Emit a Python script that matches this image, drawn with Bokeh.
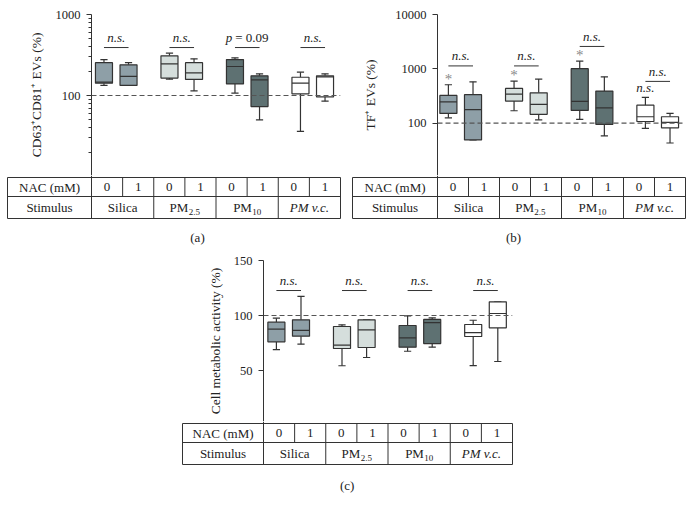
from bokeh.plotting import figure
from bokeh.layouts import row, column
from bokeh.models import Range1d, Span, FixedTicker, NumeralTickFormatter, Spacer
from bokeh.core.properties import value
from bokeh.embed import file_html
from bokeh.resources import INLINE

FONT = "Liberation Serif"

# ---------------- data ----------------
stimuli = ["Silica", "PM", "PM", "PM v.c."]
stimuli_sub = ["", "2.5", "10", ""]
stimuli_italic = [False, False, False, True]
nac_levels = ["0", "1"]
group_colors = ["#8e9fa7", "#d5dedc", "#5e7172", "#ffffff"]

# (a) CD63+CD81+ EVs (%)
a_lo = [133, 133, 159, 114, 107, 50, 36, 85]
a_q1 = [142, 133, 164, 158, 139, 73, 105, 96]
a_med = [146, 172, 246, 190, 228, 156, 142, 170]
a_q3 = [254, 239, 309, 254, 278, 175, 168, 175]
a_hi = [278, 254, 333, 284, 292, 185, 194, 185]
a_notes = ["n.s.", "n.s.", "p = 0.09", "n.s."]
a_note_y = [391, 391, 391, 391]
a_major = [100, 1000]
a_minor = [20, 30, 40, 50, 60, 70, 80, 90, 200, 300, 400, 500, 600, 700, 800, 900]

# (b) TF+ EVs (%)
b_lo = [125, 49, 169, 115, 117, 58, 80, 43]
b_q1 = [151, 49, 254, 145, 171, 95, 107, 82]
b_med = [247, 177, 342, 221, 251, 191, 131, 103]
b_q3 = [324, 334, 435, 361, 1005, 389, 214, 131]
b_hi = [509, 575, 593, 646, 1387, 712, 297, 151]
b_notes = ["n.s.", "n.s.", "n.s.", "n.s."]
b_note_y = [1130, 1130, 2580, 586]
b_star = [True, False, True, False, True, False, False, False]
b_extra_note_y = 449  # extra n.s. above PM v.c. NAC 0
b_major = [100, 1000, 10000]

# (c) Cell metabolic activity (%)
c_lo = [69, 73.9, 54.3, 61.8, 67.5, 71.2, 54.5, 58.2]
c_q1 = [76.1, 81.2, 70, 70.9, 71.2, 74.5, 80.9, 88.8]
c_med = [87.6, 86.4, 73, 87, 79.7, 93.6, 84.5, 101.8]
c_q3 = [93.9, 96.1, 90, 96.1, 90.9, 96.4, 91.8, 112.4]
c_hi = [97.6, 117.3, 91.5, 96.1, 99.7, 97.9, 95.7, 112.4]
c_notes = ["n.s.", "n.s.", "n.s.", "n.s."]
c_note_y = [122.7, 122.7, 122.7, 122.7]
c_major = [50, 100, 150]

OFF = 0.375   # box offset inside group (group units)
BW = 0.26     # box width
CAP = 0.11    # whisker cap width
LINE = "#333333"
TXT = "#222222"


def no_align(p):
    if "frame_align" in p.properties():
        p.frame_align = False


def positions():
    xs, cols = [], []
    for g in range(len(stimuli)):
        for n in range(len(nac_levels)):
            xs.append(g + (n - 0.5) * OFF)
            cols.append(group_colors[g])
    return xs, cols


def box_fig(width, height, mbl, mbr, mbt, x_range, y_range, y_type, label, standoff):
    p = figure(width=width, height=height, x_range=x_range, y_range=y_range,
               y_axis_type=y_type, output_backend="svg", toolbar_location=None,
               min_border_left=mbl, min_border_right=mbr, min_border_top=mbt,
               min_border_bottom=0)
    no_align(p)
    p.xaxis.visible = False
    p.xgrid.grid_line_color = None
    p.ygrid.grid_line_color = None
    p.outline_line_color = None
    ax = p.yaxis[0]
    ax.axis_label = label
    ax.axis_label_text_font = FONT
    ax.axis_label_text_font_style = "normal"
    ax.axis_label_text_font_size = "13.5px"
    ax.axis_label_text_color = TXT
    ax.axis_label_standoff = standoff
    ax.major_label_text_font = FONT
    ax.major_label_text_font_size = "12.5px"
    ax.major_label_text_color = TXT
    ax.major_label_standoff = 6
    ax.axis_line_color = LINE
    ax.major_tick_line_color = LINE
    ax.minor_tick_line_color = LINE
    ax.major_tick_out = 5
    ax.major_tick_in = 0
    ax.minor_tick_out = 3
    ax.minor_tick_in = 0
    ax.formatter = NumeralTickFormatter(format="0")
    return p


def draw_boxes(p, lo, q1, med, q3, hi):
    xs, cols = positions()
    p.segment(x0=xs, x1=xs, y0=q3, y1=hi, line_color=LINE, line_width=1.2)
    p.segment(x0=xs, x1=xs, y0=q1, y1=lo, line_color=LINE, line_width=1.2)
    p.segment(x0=[x - CAP / 2 for x in xs], x1=[x + CAP / 2 for x in xs],
              y0=hi, y1=hi, line_color=LINE, line_width=1.2)
    p.segment(x0=[x - CAP / 2 for x in xs], x1=[x + CAP / 2 for x in xs],
              y0=lo, y1=lo, line_color=LINE, line_width=1.2)
    p.vbar(x=xs, width=BW, top=q3, bottom=q1, fill_color=cols,
           line_color=LINE, line_width=1.2)
    p.segment(x0=[x - BW / 2 for x in xs], x1=[x + BW / 2 for x in xs],
              y0=med, y1=med, line_color=LINE, line_width=1.2)
    p.add_layout(Span(location=100, dimension="width", line_color="#555555",
                      line_dash="5 3", line_width=1.2))
    return xs


def draw_notes(p, notes, note_y):
    gx = list(range(len(stimuli)))
    p.segment(x0=[g - OFF / 2 for g in gx], x1=[g + OFF / 2 for g in gx],
              y0=note_y, y1=note_y, line_color=LINE, line_width=1)
    for g, (t, y) in enumerate(zip(notes, note_y)):
        if t.startswith("p ="):
            p.text(x=[g], y=[y], text=["p"], text_font=value(FONT),
                   text_font_style="italic", text_font_size="13px",
                   text_align="right", text_baseline="middle",
                   x_offset=-15, y_offset=-10, text_color=TXT)
            p.text(x=[g], y=[y], text=[t[2:]], text_font=value(FONT),
                   text_font_size="13px", text_align="left",
                   text_baseline="middle", x_offset=-12, y_offset=-10,
                   text_color=TXT)
        else:
            p.text(x=[g], y=[y], text=[t], text_font=value(FONT),
                   text_font_style="italic", text_font_size="13px",
                   text_align="center", text_baseline="middle",
                   y_offset=-10, text_color=TXT)


def table_fig(width, height, mbl, mbr, x_range, y_range, left, caption, cap_x, cap_y):
    t = figure(width=width, height=height, x_range=x_range, y_range=y_range,
               output_backend="svg", toolbar_location=None,
               min_border_left=mbl, min_border_right=mbr, min_border_top=0,
               min_border_bottom=0)
    no_align(t)
    t.axis.visible = False
    t.grid.grid_line_color = None
    t.outline_line_color = None
    r1, r2 = -19, -41
    ncol = len(stimuli) * len(nac_levels)
    # horizontal rules
    t.segment(x0=[left] * 3, x1=[ncol] * 3, y0=[0, r1, r2], y1=[0, r1, r2],
              line_color=LINE, line_width=1)
    # full-height verticals
    full = [left, 0] + [g * 2 for g in range(1, len(stimuli))] + [ncol]
    t.segment(x0=full, x1=full, y0=[0] * len(full), y1=[r2] * len(full),
              line_color=LINE, line_width=1)
    # axis continuation
    t.segment(x0=[0], x1=[0], y0=[y_range.end], y1=[0], line_color=LINE, line_width=1)
    # top-row subdividers
    sub = [g * 2 + 1 for g in range(len(stimuli))]
    t.segment(x0=sub, x1=sub, y0=[0] * len(sub), y1=[r1] * len(sub),
              line_color=LINE, line_width=1)
    # texts
    tc = dict(text_font=value(FONT), text_font_size="13px",
              text_baseline="middle", text_color=TXT)
    t.text(x=[left / 2, left / 2], y=[r1 / 2, (r1 + r2) / 2],
           text=["NAC (mM)", "Stimulus"], text_align="center", **tc)
    t.text(x=[c + 0.5 for c in range(ncol)], y=[r1 / 2] * ncol,
           text=[nac_levels[c % 2] for c in range(ncol)], text_align="center", **tc)
    ym = (r1 + r2) / 2
    for g, (s, sb, it) in enumerate(zip(stimuli, stimuli_sub, stimuli_italic)):
        style = "italic" if it else "normal"
        if sb:
            main_w = 18.8
            sub_w = 4.6 * len(sb) - (1.9 if "." in sb else 0)
            shift = (main_w + sub_w) / 2 - sub_w
            t.text(x=[g * 2 + 1], y=[ym], text=[s], text_align="right",
                   x_offset=shift, text_font_style=style, **tc)
            t.text(x=[g * 2 + 1], y=[ym], text=[sb], text_align="left",
                   x_offset=shift + 0.3, y_offset=4, text_font=value(FONT),
                   text_font_size="9px", text_baseline="middle", text_color=TXT)
        else:
            t.text(x=[g * 2 + 1], y=[ym], text=[s], text_align="center",
                   text_font_style=style, **tc)
    t.text(x=[cap_x], y=[cap_y], text=[caption], text_align="center", **tc)
    return t


# ---------------- panel (a) ----------------
pa = box_fig(345, 175, 91, 5, 14,
             Range1d((91 - 115.75) / 65.5, (340 - 115.75) / 65.5),
             Range1d(10 ** (3 - 161 / 81), 1000), "log",
             "CD63\u207aCD81\u207a EVs (%)", 9)
pa.yaxis[0].ticker = FixedTicker(ticks=a_major, minor_ticks=a_minor)
draw_boxes(pa, a_lo, a_q1, a_med, a_q3, a_hi)
draw_notes(pa, a_notes, a_note_y)
ppu_a = 31.125
ta = table_fig(345, 75, 6, 4, Range1d(-85 / ppu_a, 250 / ppu_a), Range1d(-73, 2),
               -84 / ppu_a, "(a)", (197 - 91) / ppu_a, -60)

# ---------------- panel (b) ----------------
pb = box_fig(349, 175, 92, 9, 14,
             Range1d((437 - 460.2) / 65.67, (685 - 460.2) / 65.67),
             Range1d(10 ** (4 - 161 / 54.3), 10000), "log",
             "TF\u207a EVs (%)", 14)
pb.yaxis[0].ticker = FixedTicker(ticks=b_major, minor_ticks=[])
xs_b = draw_boxes(pb, b_lo, b_q1, b_med, b_q3, b_hi)
draw_notes(pb, b_notes, b_note_y)
sx = [x for x, s in zip(xs_b, b_star) if s]
sy = [h for h, s in zip(b_hi, b_star) if s]
pb.text(x=sx, y=sy, text=["*"] * len(sx), text_font=value(FONT),
        text_font_size="15px", text_align="center", text_baseline="middle",
        y_offset=-6, text_color="#8a8a8a")
pb.text(x=[xs_b[6]], y=[b_extra_note_y], text=["n.s."], text_font=value(FONT),
        text_font_style="italic", text_font_size="13px", text_align="center",
        text_baseline="middle", text_color=TXT)
ppu_b = 31.0
tb = table_fig(349, 75, 6, 8, Range1d(-86 / ppu_b, 249 / ppu_b), Range1d(-73, 2),
               -85 / ppu_b, "(b)", (513 - 437) / ppu_b, -60)

# ---------------- panel (c) ----------------
pc = box_fig(344, 171, 93, 2, 10,
             Range1d((263 - 288.2) / 65.6, (512 - 288.2) / 65.6),
             Range1d(150 - 161 / 1.1, 150), "linear",
             "Cell metabolic activity (%)", 8)
pc.yaxis[0].ticker = FixedTicker(ticks=c_major, minor_ticks=[])
pc.yaxis[0].formatter = NumeralTickFormatter(format="0")
draw_boxes(pc, c_lo, c_q1, c_med, c_q3, c_hi)
draw_notes(pc, c_notes, c_note_y)
ppu_c = 31.125
tc_ = table_fig(344, 74, 11, 0, Range1d(-82 / ppu_c, 251 / ppu_c), Range1d(-72, 2),
                -81 / ppu_c, "(c)", (346.7 - 263) / ppu_c, -62)

layout = column(
    row(column(pa, ta, spacing=0), column(pb, tb, spacing=0), spacing=0),
    row(Spacer(width=170, height=245), column(pc, tc_, spacing=0), spacing=0),
    spacing=0,
)

open("out.html", "w").write(file_html(layout, INLINE))
